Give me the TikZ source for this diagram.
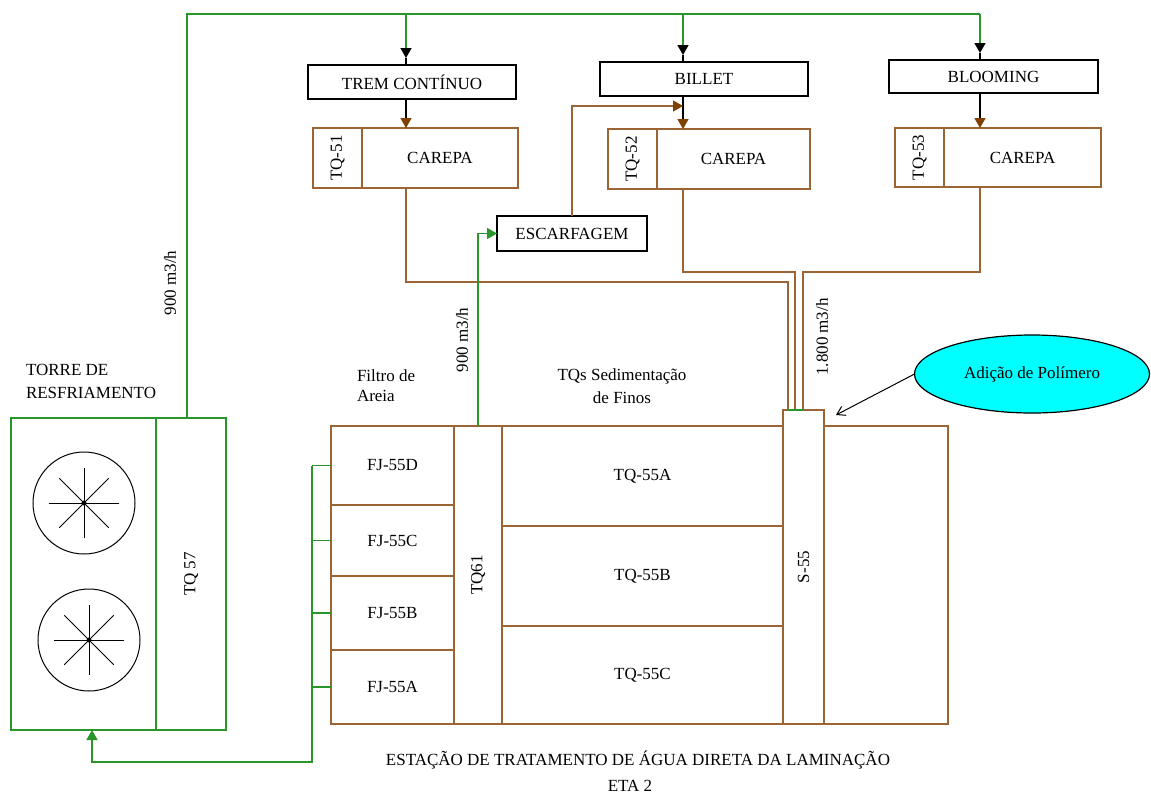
\documentclass[tikz,border=0pt]{standalone}
\usepackage{fontspec}
\setmainfont{Liberation Serif}
\usepackage{tikz}
\usetikzlibrary{shapes.geometric, arrows.meta, calc}

\definecolor{gruen}{RGB}{40,150,40}
\definecolor{braun}{RGB}{155,100,50}
\definecolor{braundunkel}{RGB}{128,64,0}
\definecolor{tuerkis}{RGB}{0,255,255}

\begin{document}
\begin{tikzpicture}[
        x=0.5pt, y=-0.5pt,
        every node/.style={font=\fontsize{8.5}{11.5}\selectfont, inner sep=0pt, outer sep=0pt},
        box/.style={draw=black, line width=0.75pt, rectangle, anchor=north west},
        tank/.style={draw=braun, line width=0.75pt, rectangle, anchor=north west},
        torrebox/.style={draw=gruen, line width=0.75pt, rectangle, anchor=north west},
        flow/.style={draw=gruen, line width=0.75pt},
        pipe/.style={draw=braun, line width=0.75pt},
        link/.style={draw=black, line width=0.75pt},
        pfeil/.style={-{Triangle[length=5pt, width=5.5pt, color=#1]}}
    ]
    \useasboundingbox (0,0) rectangle (1151,798);

    % Knoten oben
    \node[box, minimum width=104pt, minimum height=17pt] (trem) at (308,65) {TREM CONTÍNUO};
    \node[box, minimum width=104pt, minimum height=17pt] (billet) at (600,62) {BILLET};
    \node[box, minimum width=104.5pt, minimum height=16.5pt] (blooming) at (889,60) {BLOOMING};

    \node[tank, minimum width=24.5pt, minimum height=30pt] (tq51) at (313,128) {\rotatebox{90}{TQ-51}};
    \node[tank, minimum width=78pt, minimum height=30pt] (carepa1) at (tq51.north east) {CAREPA};
    \node[tank, minimum width=24.5pt, minimum height=30pt] (tq52) at (608,129) {\rotatebox{90}{TQ-52}};
    \node[tank, minimum width=76.5pt, minimum height=30pt] (carepa2) at (tq52.north east) {CAREPA};
    \node[tank, minimum width=24.5pt, minimum height=29.5pt] (tq53) at (895,128) {\rotatebox{90}{TQ-53}};
    \node[tank, minimum width=78.5pt, minimum height=29.5pt] (carepa3) at (tq53.north east) {CAREPA};

    \node[box, minimum width=75pt, minimum height=17.5pt] (escarf) at (497,216) {ESCARFAGEM};

    % Torre
    \node[torrebox, minimum width=72.5pt, minimum height=156pt] (torre) at (11,418) {};
    \node[torrebox, minimum width=35pt, minimum height=156pt] (tq57) at (torre.north east) {\rotatebox{90}{TQ 57}};
    \foreach \cx/\cy in {84/503, 89/640} {
        \draw[line width=0.5pt] (\cx,\cy) circle[radius=51];
        \foreach \a in {0,45,...,315}
            \draw[line width=0.5pt] (\cx,\cy) -- ++(\a:35);
        \fill (\cx,\cy) circle[radius=2.5];
    }
    \node[anchor=north west, align=left] (torretxt) at (26,364) {TORRE DE\\RESFRIAMENTO};

    % ETA
    \node[tank, minimum width=61.5pt, minimum height=39.5pt] (fj55d) at (331,426) {FJ-55D};
    \node[tank, minimum width=61.5pt, minimum height=35.5pt] (fj55c) at (fj55d.south west) {FJ-55C};
    \node[tank, minimum width=61.5pt, minimum height=37pt] (fj55b) at (fj55c.south west) {FJ-55B};
    \node[tank, minimum width=61.5pt, minimum height=37pt] (fj55a) at (fj55b.south west) {FJ-55A};
    \node[tank, minimum width=24pt, minimum height=149pt] (tq61) at (fj55d.north east) {\rotatebox{90}{TQ61}};
    \node[tank, minimum width=140.5pt, minimum height=50pt] (tq55a) at (tq61.north east) {TQ-55A};
    \node[tank, minimum width=140.5pt, minimum height=50pt] (tq55b) at (tq55a.south west) {TQ-55B};
    \node[tank, minimum width=140.5pt, minimum height=49pt] (tq55c) at (tq55b.south west) {TQ-55C};
    \node[tank, minimum width=20.5pt, minimum height=157pt] (s55) at (783,410) {\rotatebox{90}{S-55}};
    \node[tank, minimum width=62pt, minimum height=149pt] (rest) at (s55.north east |- tq55a.north) {};

    \node[anchor=north west, align=left, font=\fontsize{8.5}{10}\selectfont] (filtro) at (357,370) {Filtro de\\Areia};
    \node[anchor=north, align=center] (sedim) at (622,369) {TQs Sedimentação\\de Finos};

    \node[ellipse, draw=black, fill=tuerkis, line width=0.6pt, minimum width=117.5pt, minimum height=39pt] (polimero) at (1032,374) {Adição de Polímero};
    \coordinate (dosagem) at (836,415);

    % Leitungen
    \coordinate (k0) at (187,14);
    \coordinate (k1) at (406,14);
    \coordinate (k2) at (683,14);
    \coordinate (k3) at (980,14);
    \draw[flow] (tq57.north -| k0) -- (k0) -- (k3);
    \foreach \k/\b in {k1/trem, k2/billet, k3/blooming} {
        \draw[flow, pfeil=black] (\k) -- ($(\b.north -| \k)+(0,-7)$);
        \draw[link] ($(\b.north -| \k)+(0,-7)$) -- (\b.north -| \k);
    }
    \draw[link, pfeil=braundunkel] (trem.south -| k1) -- (carepa1.north -| k1);
    \draw[link, pfeil=braundunkel] (billet.south -| k2) -- (carepa2.north -| k2);
    \draw[link, pfeil=braundunkel] (blooming.south -| k3) -- (carepa3.north -| k3);
    \draw[pipe, pfeil=braundunkel] (escarf.north) |- (k2 |- 0,106);

    \coordinate (in1) at ($(s55.north west)+(5,0)$);
    \coordinate (in2) at ($(s55.north west)+(12,0)$);
    \coordinate (in3) at ($(s55.north west)+(20,0)$);
    \draw[pipe] (carepa1.south -| k1) |- (in1 |- 0,282) -- (in1);
    \draw[pipe] (carepa2.south -| k2) |- (in2 |- 0,272) -- (in2);
    \draw[pipe] (carepa3.south -| k3) |- (in3 |- 0,272) -- (in3);
    \draw[flow] (in1) -- (in3);

    \draw[flow, pfeil=gruen] (tq61.north) |- (escarf.west);

    \coordinate (r0) at (312,762);
    \coordinate (r1) at (92,762);
    \draw[flow, pfeil=gruen] (fj55d.west -| r0) -- (r0) -- (r1) -- (r1 |- torre.south);
    \foreach \f in {fj55d, fj55c, fj55b, fj55a}
        \draw[flow] (\f.west -| r0) -- (\f.west);

    \draw[line width=0.5pt, -{Straight Barb[length=4pt, width=5pt]}] (polimero.west) -- (dosagem);

    % Beschriftung
    \node[rotate=90] (q1) at (170,283) {900 m3/h};
    \node[rotate=90] (q2) at (462,340) {900 m3/h};
    \node[rotate=90] (q3) at (822,337) {1.800 m3/h};
    \node[anchor=base] (titel) at (638,765) {ESTAÇÃO DE TRATAMENTO DE ÁGUA DIRETA DA LAMINAÇÃO};
    \node[anchor=base] (eta) at (630,791) {ETA 2};

\end{tikzpicture}
\end{document}
